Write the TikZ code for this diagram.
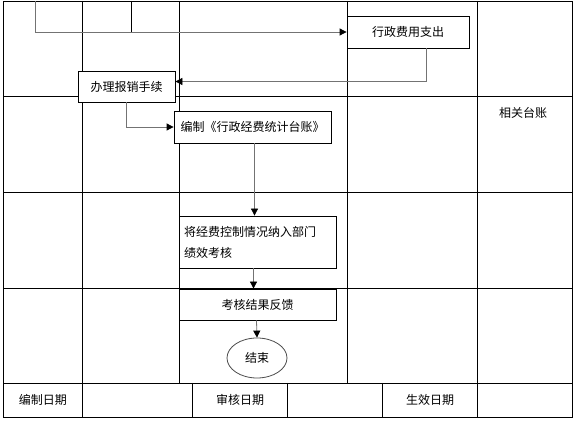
\documentclass[tikz,border=0pt]{standalone}
\usepackage{fontspec}
\newfontfamily\cjk{Noto Sans CJK SC}
\usepackage{tikz}
\usetikzlibrary{arrows.meta,shapes.geometric}

\begin{document}
\begin{tikzpicture}[x=1pt, y=-1pt,
    every node/.style={font=\cjk\fontsize{12}{21}\selectfont},
    box/.style={draw, thick, inner sep=0pt, fill=white},
    arr/.style={draw=black!55, thick, -{Triangle[length=7pt,width=7pt,color=black]}}]
                \useasboundingbox (0, 0) rectangle (574, 422);
                % table
                \draw [thick] (3, 1) rectangle (572, 417);
                \foreach \y in {96, 192, 288, 383}
                    \draw [thick] (3, \y) -- (572, \y);
                \foreach \x in {82, 477}
                    \draw [thick] (\x, 1) -- (\x, 417);
                \foreach \x in {179, 347}
                    \draw [thick] (\x, 1) -- (\x, 383);
                \foreach \x in {192, 287, 382}
                    \draw [thick] (\x, 383) -- (\x, 417);
                \draw [thick] (131, 1) -- (131, 33);
                % boxes
                \node [box, minimum width=122, minimum height=32] (zhichu) at (408, 32) {行政费用支出};
                \node [box, minimum width=97, minimum height=31] (baoxiao) at (126.5, 86.5) {办理报销手续};
                \node [box, minimum width=157, minimum height=32] (taizhang) at (252.5, 127) {编制《行政经费统计台账》};
                \node [box, minimum width=157, minimum height=52, text width=147, align=left] (kaohe) at (257.5, 242) {将经费控制情况纳入部门\\绩效考核};
                \node [box, minimum width=157, minimum height=31] (fankui) at (257.5, 304.5) {考核结果反馈};
                \node [box, ellipse, draw=black!70, minimum width=60, minimum height=40] (jieshu) at (257, 358) {结束};
                \node (taizhangs) at (523, 113) {相关台账};
                \node (bianzhi) at (43, 400) {编制日期};
                \node (shenhe) at (240, 400) {审核日期};
                \node (shengxiao) at (430, 400) {生效日期};
                % connectors
                \coordinate (start) at (35, 1);
                \draw [arr] (start) |- (zhichu.west);
                \draw [arr] ([xshift=18]zhichu.south) |- ([yshift=5]baoxiao.east);
                \draw [arr] (baoxiao.south) |- (taizhang.west);
                \draw [arr] ([xshift=2]taizhang.south) -- ([xshift=2]taizhang.south |- kaohe.north);
                \draw [arr] ([xshift=-4]kaohe.south) -- ([xshift=-4]kaohe.south |- fankui.north);
                \draw [arr] ([xshift=-1]fankui.south) -- (jieshu.north);
            \end{tikzpicture}
\end{document}
